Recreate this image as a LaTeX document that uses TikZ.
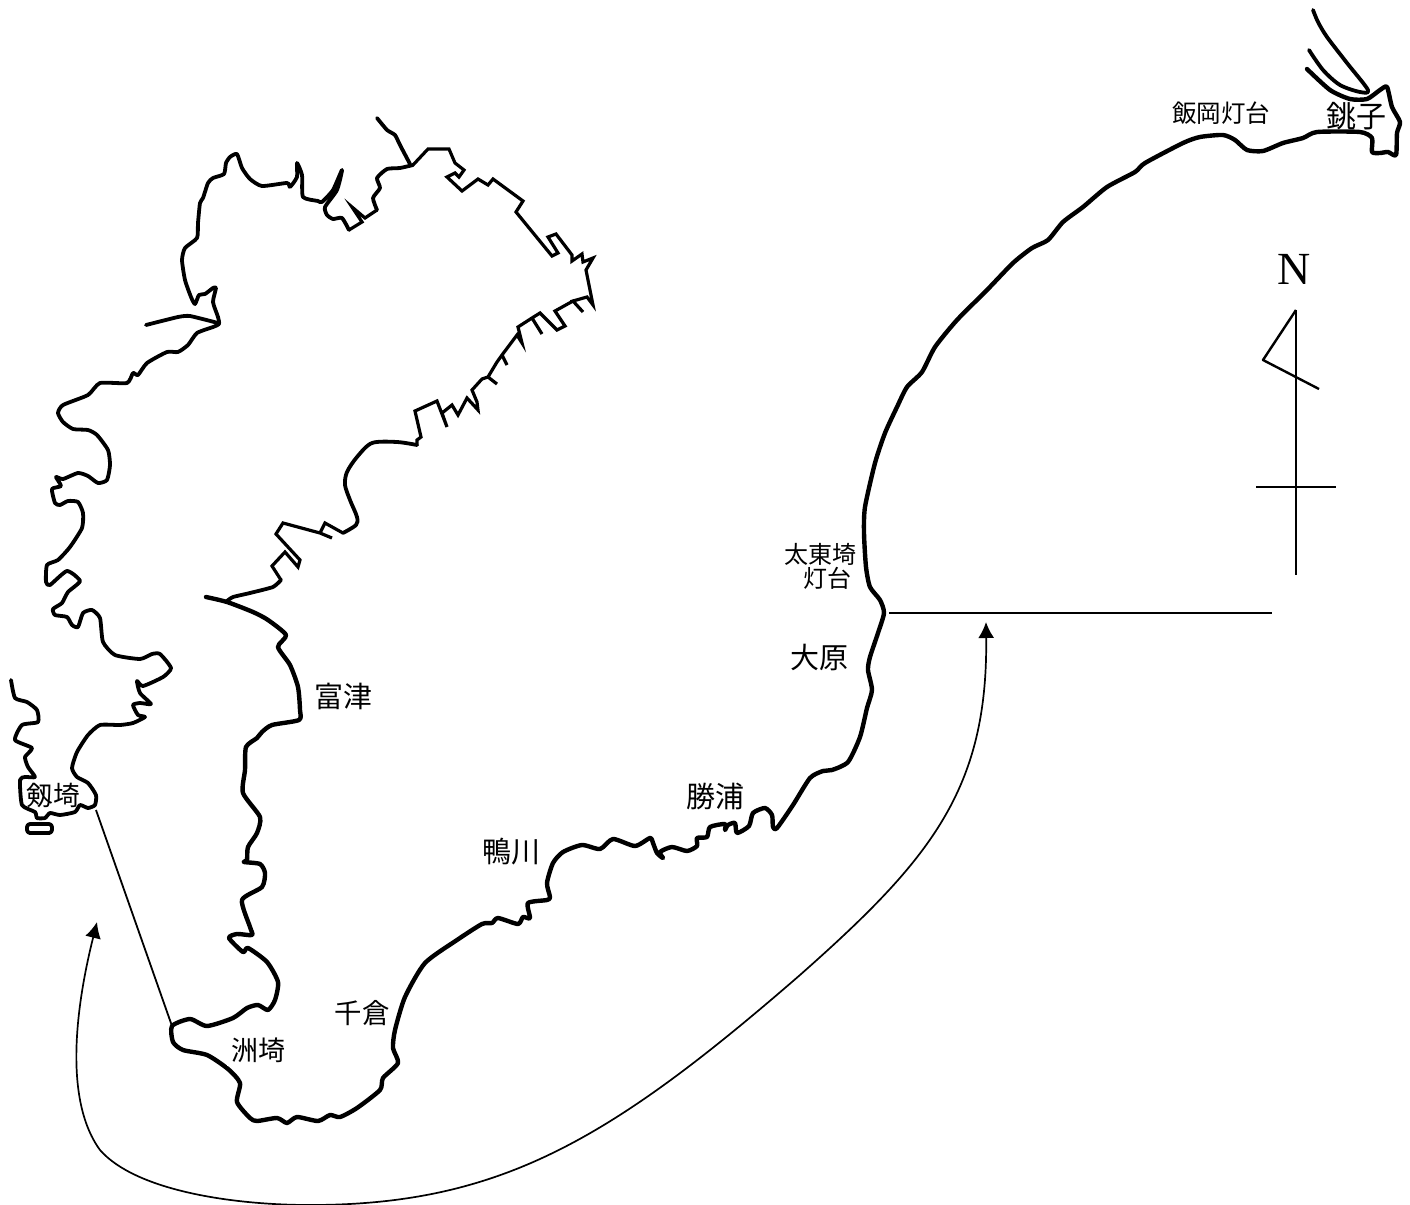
\documentclass[tikz,border=0pt]{standalone}
\usepackage{fontspec}
\setmainfont{Noto Sans CJK JP}
\newfontfamily\latinfont{Liberation Serif}
\usetikzlibrary{arrows.meta}

\begin{document}
\begin{tikzpicture}[
    x=0.5pt, y=-0.5pt,
    coast/.style={line width=2.2pt, line join=round, line cap=round},
    bay/.style={line width=1.9pt, line join=round, line cap=round},
    port/.style={line width=1.6pt, line join=miter, line cap=round},
    arrow/.style={line width=0.85pt, {Latex[length=8pt,width=8pt]}-{Latex[length=8pt,width=8pt]}},
    leader/.style={line width=0.9pt},
    place/.style={inner sep=0pt, font=\fontsize{14.5}{16}\selectfont}
]
\useasboundingbox (0,0) rectangle (1410,1205);

% Miura peninsula
\draw[bay] plot[smooth, tension=0.35] coordinates {
    (11,680) (15,698) (27,702) (37,710) (38,722) (22,725) (15,740) (32,748) (25,757) (28,767)
    (35,777) (25,777) (20,780) (22,805) (35,812) (37,818) (45,818) (50,813) (60,815) (75,812)
    (80,805) (88,808) (95,805) (96,795) (88,783) (77,777) (72,768) (77,752) (88,735) (100,725)
    (120,725) (133,723) (145,717) (138,715) (133,705) (140,703) (151,704) (140,693) (137,681)
    (143,686) (163,677) (171,668) (160,654) (152,654) (140,659) (115,655) (103,642) (100,618)
    (92,610) (83,613) (78,627) (72,625) (67,617) (55,615) (53,609) (62,603) (68,592) (80,581)
    (67,571) (50,585) (46,582) (47,565) (58,560) (70,547) (82,528) (83,513) (78,502) (68,501)
    (60,505) (55,503) (52,489) (61,486) (56,477) (63,479) (78,473) (88,476) (98,483) (107,480)
    (110,465) (108,450) (97,435) (88,430) (73,429) (63,422) (58,413) (63,405) (88,395) (100,383)
    (127,383) (133,373) (138,375) (147,363) (167,352) (178,352) (188,345) (197,333) (213,327)
    (219,324) (218,317) (213,302) (216,288) (213,288) (205,294) (199,295) (195,304) (191,297)
    (185,280) (182,260) (185,248) (197,238) (198,223) (200,203) (203,198) (208,183) (213,178)
    (224,174) (226,163) (230,157) (237,154) (242,168) (250,179) (262,186) (287,183) (290,187)
    (297,177) (297,163) (302,175) (303,197) (318,201) (322,202) (333,190) (342,170) (337,190)
    (325,207) (327,215) (333,219) (342,218) (349,230)};
\draw[port] (349,230) -- (362,222) -- (352,207) -- (365,218) -- (377,210);
\draw[bay] plot[smooth, tension=0.35] coordinates {
    (377,210) (373,198) (380,188) (377,178) (387,169) (400,168) (413,165)};
\draw[bay] plot[smooth, tension=0.3] coordinates {
    (146,325) (178,317) (190,316) (218,323)};
\draw[bay] plot[smooth, tension=0.3] coordinates {
    (377,118) (387,130) (395,135) (400,145) (410,164)};
\draw[bay, rounded corners=1.5pt] (27,824) rectangle (52,833);

% Tokyo bay shore
\draw[port] (413,165) -- (428,149) -- (449,149) -- (455,163) -- (464,170) -- (459,177)
    -- (455,173) -- (447,177) -- (462,191) -- (478,179) -- (488,185) -- (493,179) -- (523,201)
    -- (516,212) -- (552,256) -- (558,253) -- (548,237) -- (556,234) -- (572,255) -- (572,261)
    -- (582,254) -- (583,262) -- (593,258) -- (586,270) -- (593,305) -- (587,297) -- (573,301)
    -- (583,312) -- (573,301) -- (555,311) -- (565,326) -- (557,330) -- (540,313) -- (532,318)
    -- (542,334) -- (532,318) -- (518,327) -- (522,343) -- (517,335) -- (502,355) -- (507,365)
    -- (502,355) -- (497,362) -- (488,377) -- (497,384) -- (488,377) -- (482,379) -- (472,390)
    -- (477,402) -- (478,410) -- (467,398) -- (458,415) -- (452,405) -- (442,413) -- (447,427)
    -- (437,401) -- (415,411) -- (421,437) -- (417,440) -- (417,445);
\draw[bay] plot[smooth, tension=0.5] coordinates {
    (417,445) (397,442) (372,443) (357,457) (347,472) (345,485) (350,500) (357,517) (356,525) (343,533)};
\draw[port] (343,533) -- (325,523) -- (320,533) -- (332,538) -- (320,533) -- (283,523) -- (276,534)
    -- (300,560) -- (298,567) -- (285,552) -- (272,566) -- (281,580);
\draw[bay] plot[smooth, tension=0.3] coordinates {
    (281,580) (273,587) (250,593) (233,597) (227,601)};

% Boso south and east coast
\draw[coast] plot[smooth, tension=0.4] coordinates {
    (206,597) (227,602) (253,612) (268,620) (286,635) (278,647) (290,665) (298,687) (300,710)
    (299,720) (272,725) (262,732) (257,738) (246,747) (245,770) (243,793) (260,817) (257,833)
    (248,847) (247,860) (244,862) (260,864) (265,873) (262,887) (242,900) (250,927) (252,935)
    (237,934) (229,938) (243,952) (248,948) (267,962) (278,982) (275,1000) (268,1010) (258,1005)
    (247,1008) (233,1018) (207,1026) (190,1019) (172,1026) (173,1042) (183,1050) (207,1055)
    (228,1069) (240,1083) (237,1102) (250,1118) (257,1121) (277,1118) (287,1123) (297,1117)
    (318,1121) (330,1115) (340,1117) (357,1108) (380,1090) (383,1078) (398,1063) (393,1048)
    (395,1030) (405,997) (425,963) (457,940) (482,924) (492,923) (498,918) (518,924) (523,917)
    (530,918) (528,903) (547,900) (550,897) (547,883) (553,863) (563,852) (582,845) (600,849)
    (613,839) (635,846) (650,838) (653,843) (657,853) (663,858) (660,852) (672,847) (687,851)
    (697,846) (697,838) (707,837) (710,827) (725,824) (725,830) (728,825) (735,823) (737,833)
    (749,826) (753,813) (765,808) (772,815) (773,827) (777,828) (793,805) (810,778) (823,771)
    (832,770) (848,762) (860,737) (867,708) (872,690) (868,670) (870,657) (878,633) (884,613)
    (880,600) (870,587) (866,567) (864,533) (865,507) (875,463) (885,433) (897,407) (907,387)
    (922,372) (935,347) (957,320) (987,290) (1013,263) (1032,248) (1048,240) (1063,222) (1083,207)
    (1107,187) (1135,172) (1145,163) (1183,143) (1200,137) (1223,135) (1235,140) (1247,150)
    (1263,151) (1283,143) (1303,138) (1317,132) (1360,132) (1372,138) (1372,152) (1380,153)
    (1388,152) (1396,155) (1397,133) (1400,122) (1392,107) (1387,87) (1380,90) (1367,99)
    (1350,99) (1330,90) (1307,69)};
\draw[bay] plot[smooth, tension=0.5] coordinates {
    (1309,50) (1323,70) (1340,85) (1360,92) (1368,90) (1347,63) (1327,37) (1318,22) (1313,10)};

% Place names
\node[place, fill=white, inner sep=2pt] (suzaki) at (258,1050) {\fontsize{13.5}{15}\selectfont 洲埼};
\node[place] (futtsu) at (343,696) {富津};
\node[place, font=\fontsize{13.3}{15}\selectfont] (tsurugi) at (53,795) {剱埼};
\node[place, font=\fontsize{13.7}{15}\selectfont] (chikura) at (362,1013) {千倉};
\node[place] (kamogawa) at (511,852) {鴨川};
\node[place] (katsuura) at (715,796) {勝浦};
\node[place] (ohara) at (819,657) {大原};
\node[place, align=left, font=\fontsize{12}{10}\selectfont] (taito) at (820,566) {太東埼\\\hspace*{9.5pt}灯台};
\node[place, font=\fontsize{12.25}{14}\selectfont] (iioka) at (1221,113) {飯岡灯台};
\node[place, font=\fontsize{15}{17}\selectfont] (choshi) at (1356,116) {銚子};

% Compass
\node[inner sep=0pt, font=\latinfont\fontsize{23}{26}\selectfont] (north) at (1294,269) {N};
\coordinate (needletop) at (1296,310);
\coordinate (needlefoot) at (1296,575);
\coordinate (barleft) at (1256,487);
\coordinate (barright) at (1336,487);
\coordinate (vanetip) at (1263,360);
\coordinate (vaneend) at (1319,389);
\draw[line width=1.2pt] (needletop) -- (needlefoot);
\draw[line width=1.2pt] (barleft) -- (barright);
\draw[line width=1.2pt, line join=round] (needletop) -- (vanetip) -- (vaneend);

% Lines and sailing arrow
\coordinate (eastcape) at (889,613);
\coordinate (eastend) at (1272,613);
\coordinate (westcape) at (96,810);
\coordinate (southcape) at (172,1026);
\coordinate (arrowwest) at (97,922);
\coordinate (arroweast) at (986,622);
\draw[line width=1.2pt] (eastcape) -- (eastend);
\draw[leader] (westcape) -- (southcape);
\draw[arrow] (arrowwest) .. controls (80,990) and (60,1095) .. (100,1150)
    .. controls (135,1190) and (230,1205) .. (310,1205)
    .. controls (500,1205) and (610,1140) .. (800,975)
    .. controls (930,860) and (988,790) .. (arroweast);

\end{tikzpicture}
\end{document}
